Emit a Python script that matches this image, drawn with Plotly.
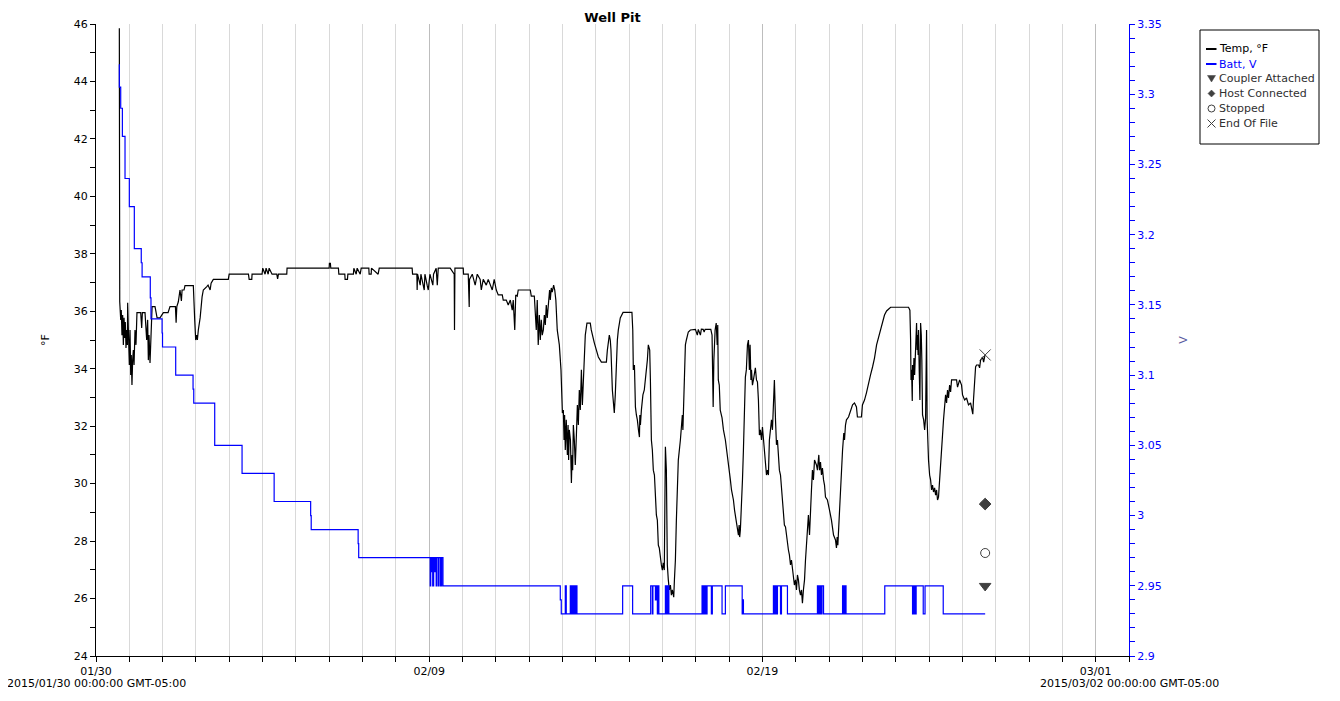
import pandas as pd
import plotly.graph_objects as go

START = pd.Timestamp("2015-01-30 00:00:00")

# Temperature (°F) readings: hours since 2015-01-30 00:00 and values
temp_hours = [
    16.8, 17.1, 17.8, 18.2, 18.7, 19.2, 19.7, 20.2, 20.7, 21.1, 21.6, 22.1, 22.6, 22.8, 23.5, 24.0,
    24.5, 25.0, 25.4, 25.9, 26.4, 26.9, 27.4, 28.1, 28.8, 29.5, 32.2, 32.9, 33.4, 35.3, 36.5, 37.2,
    37.7, 38.2, 38.9, 39.6, 40.4, 42.5, 44.0, 46.1, 48.5, 51.9, 53.3, 57.2, 57.7, 58.2, 59.3, 60.5,
    61.5, 62.0, 63.4, 64.1, 70.1, 71.1, 71.8, 72.6, 73.0, 73.7, 75.0, 76.4, 77.3, 79.8, 80.7, 82.2,
    82.9, 84.5, 95.3, 95.9, 109.8, 110.3, 112.2, 112.4, 119.6, 120.1, 121.8, 122.5, 124.0, 124.7,
    126.8, 130.2, 130.8, 131.4, 137.4, 137.6, 167.9, 168.1, 168.8, 169.1, 174.6, 174.9, 179.2, 179.4,
    181.1, 181.4, 185.4, 185.7, 187.4, 188.1, 190.3, 191.0, 196.5, 196.7, 198.2, 198.4, 203.2, 204.0,
    227.7, 228.0, 231.1, 231.3, 231.6, 233.5, 234.0, 236.4, 236.9, 238.5, 239.3, 240.5, 242.6, 243.1,
    245.0, 245.8, 246.5, 255.1, 258.0, 258.2, 258.5, 264.5, 264.7, 268.1, 268.8, 269.0, 271.0, 273.1,
    274.6, 276.7, 277.5, 278.9, 281.1, 282.5, 284.0, 285.4, 286.8, 287.6, 288.3, 289.7, 292.6, 293.3,
    295.5, 296.9, 298.4, 299.8, 300.5, 301.6, 302.3, 303.4, 304.1, 312.8, 313.5, 315.7, 316.4, 317.1,
    317.8, 318.5, 319.3, 320.0, 320.7, 321.4, 322.2, 322.9, 323.6, 324.3, 325.0, 325.8, 326.7, 327.2,
    327.9, 328.6, 329.6, 330.4, 331.2, 332.2, 333.7, 334.9, 335.6, 335.9, 336.6, 337.1, 337.5, 338.0,
    338.7, 339.5, 340.0, 340.4, 340.9, 341.7, 342.4, 342.9, 343.3, 343.8, 344.5, 345.2, 346.0, 346.7,
    347.4, 348.1, 348.8, 349.6, 350.3, 351.0, 351.7, 352.4, 353.6, 356.0, 356.7, 357.5, 358.9, 360.4,
    361.8, 364.0, 367.6, 368.3, 369.0, 369.7, 370.4, 370.9, 371.9, 372.6, 373.3, 374.0, 374.8, 375.5,
    376.2, 376.9, 377.6, 379.6, 386.0, 386.6, 387.0, 387.8, 388.5, 389.2, 389.9, 390.7, 391.4, 391.7,
    392.1, 392.8, 393.9, 394.9, 395.7, 396.4, 397.1, 397.8, 398.8, 399.3, 400.0, 400.7, 401.4, 402.2,
    402.9, 403.6, 404.3, 405.0, 405.7, 406.5, 407.2, 407.9, 408.6, 409.3, 410.1, 410.8, 411.1, 411.5,
    412.2, 412.9, 413.7, 414.4, 415.1, 416.1, 416.6, 417.3, 418.0, 418.7, 419.4, 420.9, 421.6, 422.3,
    422.7, 423.0, 423.7, 424.5, 425.2, 426.6, 428.1, 431.7, 433.1, 433.8, 435.3, 436.0, 437.3, 438.0,
    438.7, 440.9, 442.8, 443.7, 444.0, 444.5, 445.0, 445.9, 446.7, 447.4, 447.8, 448.2, 448.9, 449.6,
    450.9, 451.9, 453.3, 454.8, 455.7, 456.9, 457.7, 459.1, 459.9, 460.6, 461.3, 462.0, 462.7, 463.2,
    463.6, 464.1, 464.8, 465.6, 466.3, 467.0, 467.7, 468.4, 469.2, 469.9, 470.1, 470.4, 470.6, 471.1,
    471.7, 472.1, 472.8, 473.5, 474.2, 474.9, 475.7, 476.4, 477.1, 477.6, 477.8, 478.5, 479.3, 480.0,
    480.7, 481.2, 481.4, 482.2, 482.9, 483.6, 484.3, 485.0, 485.8, 486.5, 487.2, 487.9, 488.6, 489.4,
    490.1, 490.8, 491.5, 492.2, 493.0, 493.7, 494.4, 495.1, 495.8, 496.6, 497.3, 498.0, 498.7, 499.4,
    500.2, 500.9, 501.6, 502.3, 503.0, 503.8, 504.5, 505.2, 505.9, 506.6, 507.4, 508.1, 508.8, 509.5,
    510.3, 511.0, 511.7, 512.4, 513.1, 513.9, 514.6, 515.3, 516.0, 516.7, 517.5, 518.9, 519.6, 520.6,
    521.1, 521.8, 522.5, 523.2, 524.0, 524.7, 525.4, 526.8, 528.3, 529.7, 531.2, 532.6, 533.3, 533.8,
    534.3, 534.8, 535.5, 536.2, 536.9, 537.7, 538.6, 539.1, 539.8, 540.5, 542.0, 543.4, 544.9, 546.3,
    547.7, 548.4, 551.3, 552.0, 553.5, 554.9, 556.4, 557.8, 559.3, 560.7, 562.2, 563.6, 565.0, 566.5,
    567.9, 569.4, 572.3, 585.2, 586.2, 586.7, 587.0, 587.4, 587.9, 588.1, 588.6, 589.1, 589.6, 590.3,
    591.0, 591.4, 591.7, 592.1, 592.4, 592.9, 593.4, 593.9, 594.4, 594.8, 595.3, 596.1, 596.8, 597.5,
    598.2, 598.6, 598.9, 599.6, 600.4, 601.1, 601.8, 602.5, 603.2, 604.0, 604.7, 605.4, 606.1, 606.8,
    607.6, 608.3, 609.0, 609.7, 610.4, 611.2, 611.9, 612.6, 613.3, 614.0, 614.8, 615.5, 616.2, 619.8,
    620.5, 622.0, 623.4, 624.1, 625.6, 627.0, 628.4, 629.9, 630.6, 631.5, 632.0, 632.8, 633.5, 634.2,
    635.7, 636.4, 637.1, 638.5, 639.3, 640.0, 640.4,
]
temp_values = [
    45.85, 36.33, 35.70, 36.04, 35.17, 35.87, 34.83, 35.77, 35.07, 35.63, 34.72, 35.35, 34.83, 36.30, 35.00, 34.13,
    35.35, 33.78, 34.48, 33.43, 34.30, 34.65, 34.13, 35.35, 34.83, 35.95, 35.95, 35.42, 35.95, 35.95, 35.00, 35.70,
    34.30, 35.17, 34.20, 35.35, 36.16, 36.16, 35.77, 35.77, 35.95, 35.95, 36.16, 36.16, 35.60, 36.16, 36.33, 36.74,
    36.36, 36.74, 36.74, 36.89, 36.89, 35.70, 35.00, 35.17, 35.00, 35.35, 35.77, 36.50, 36.74, 36.86, 36.91, 36.74,
    36.98, 37.11, 37.11, 37.29, 37.29, 37.11, 37.11, 37.29, 37.29, 37.50, 37.29, 37.50, 37.29, 37.50,
    37.29, 37.29, 37.13, 37.29, 37.29, 37.50, 37.50, 37.67, 37.67, 37.50, 37.50, 37.29, 37.29, 37.11,
    37.11, 37.29, 37.29, 37.50, 37.29, 37.50, 37.29, 37.50, 37.50, 37.29, 37.29, 37.50, 37.29, 37.50,
    37.50, 37.29, 37.29, 36.74, 37.29, 36.91, 37.29, 36.74, 37.29, 36.91, 36.74, 37.29, 36.91, 37.29,
    37.50, 36.91, 37.50, 37.50, 37.29, 35.35, 37.50, 37.50, 37.29, 37.29, 36.15, 37.11, 37.29, 36.91,
    37.29, 37.11, 36.74, 37.11, 36.91, 37.11, 36.91, 36.74, 37.11, 36.91, 36.74, 36.57, 36.57, 36.39,
    36.39, 36.22, 36.39, 36.04, 36.39, 35.35, 36.57, 36.53, 36.74, 36.74, 36.53, 36.53, 36.04, 35.35,
    36.39, 34.83, 35.87, 35.00, 35.70, 35.17, 35.35, 35.87, 35.52, 36.22, 35.77, 36.39, 36.74, 36.39,
    36.81, 36.67, 36.91, 36.74, 36.39, 35.35, 34.83, 33.96, 32.91, 32.46, 32.56, 31.52, 32.39, 31.17,
    32.22, 31.00, 32.04, 30.82, 31.87, 31.52, 30.02, 31.00, 30.47, 32.04, 31.52, 30.65, 31.69, 32.74,
    32.04, 33.26, 32.56, 33.96, 32.74, 33.61, 34.65, 35.17, 35.59, 35.59, 35.35, 35.17, 34.90, 34.65,
    34.41, 34.23, 34.23, 34.65, 35.00, 35.17, 35.00, 34.65, 33.26, 32.74, 32.46, 33.09, 34.30, 35.00,
    35.35, 35.52, 35.77, 35.96, 35.96, 35.35, 33.96, 34.13, 32.67, 32.39, 32.22, 31.87, 31.62, 32.39,
    32.04, 32.56, 33.09, 33.26, 33.61, 33.78, 34.30, 34.83, 34.65, 33.61, 31.52, 31.17, 30.47, 30.30,
    29.43, 28.91, 28.73, 27.86, 27.76, 27.34, 27.17, 26.99, 27.24, 26.99, 31.28, 30.47, 28.04, 27.17,
    26.65, 26.30, 26.47, 26.12, 26.30, 26.05, 26.65, 27.34, 28.73, 30.13, 30.82, 31.52, 32.22, 32.39,
    31.87, 32.56, 33.61, 34.83, 35.00, 35.28, 35.35, 35.37, 35.17, 35.37, 35.17, 35.38, 35.37, 35.28,
    35.37, 35.37, 35.37, 35.17, 32.91, 32.67, 34.30, 35.35, 35.59, 34.83, 35.52, 33.61, 33.43, 32.56,
    32.29, 31.87, 31.52, 31.00, 30.58, 30.13, 29.78, 29.43, 29.08, 28.84, 28.56, 28.49, 28.21, 28.56,
    28.14, 28.39, 29.08, 30.13, 31.17, 32.56, 33.71, 33.96, 34.83, 35.00, 34.30, 35.00, 33.96, 34.83,
    33.61, 33.96, 33.43, 33.61, 33.89, 34.03, 33.61, 33.54, 32.91, 32.22, 31.69, 31.87, 31.52, 31.97,
    31.62, 31.35, 31.17, 30.82, 30.30, 30.47, 30.30, 31.52, 32.04, 32.22, 31.87, 32.91, 33.61, 32.22,
    31.35, 31.52, 30.82, 30.47, 30.30, 29.78, 29.43, 28.91, 28.56, 28.49, 28.21, 27.86, 27.69, 27.52,
    27.17, 27.34, 26.99, 26.65, 26.47, 26.65, 26.30, 26.82, 26.65, 26.30, 26.12, 26.30, 25.84, 26.30,
    26.65, 27.34, 28.04, 28.56, 28.91, 28.21, 29.43, 29.78, 30.47, 30.13, 30.82, 30.65, 30.47, 31.00,
    30.47, 30.75, 30.30, 30.54, 30.13, 29.95, 29.53, 29.43, 29.08, 28.73, 28.21, 28.04, 27.76, 28.14,
    27.86, 28.39, 29.08, 29.78, 30.47, 31.17, 31.76, 31.52, 32.04, 32.22, 32.32, 32.56, 32.74, 32.81,
    32.67, 32.32, 32.32, 32.74, 32.91, 33.16, 33.43, 33.78, 34.06, 34.37, 34.83, 35.10, 35.35, 35.63,
    35.87, 36.01, 36.14, 36.14, 36.04, 35.00, 33.61, 33.96, 32.88, 34.13, 33.61, 34.37, 33.78, 34.83,
    35.59, 34.65, 35.17, 34.48, 35.35, 33.96, 32.91, 35.59, 35.17, 34.30, 32.39, 32.22, 31.87, 32.29,
    35.35, 32.22, 31.35, 30.82, 30.30, 30.13, 29.78, 29.95, 29.71, 29.85, 29.60, 29.78, 29.43, 29.53,
    30.13, 30.82, 31.41, 31.69, 32.22, 32.74, 33.09, 32.81, 33.26, 32.98, 33.43, 33.19, 33.61, 33.61,
    33.36, 33.61, 33.43, 33.09, 32.91, 32.98, 32.74, 32.81, 32.56, 32.42, 32.91, 33.61, 34.06, 34.13,
    34.13, 34.03, 34.30, 34.41, 34.23, 34.41, 34.48,
]

# Battery (V) readings: hours since start and values (step series)
batt_hours = [
    16.4, 16.8, 17.8, 19.0, 20.9, 24.0, 27.6, 32.6, 33.2, 39.1, 39.6, 47.6, 47.9, 57.4, 69.9, 70.4,
    85.5, 105.2, 128.3, 154.6, 155.0, 188.8, 189.2,
    240.7, 241.1, 241.4, 241.8, 242.5, 243.2, 244.0, 244.3, 245.0, 245.4, 246.5, 246.8, 247.9, 248.1,
    248.6, 249.0, 249.9,
    334.4, 335.1, 338.0, 338.7, 341.6, 342.3, 343.1, 343.8, 344.5, 345.2, 345.6, 346.4, 379.3, 386.5,
    399.5, 400.7, 401.1, 402.9, 403.6, 404.3, 405.0, 405.4, 410.1, 410.4, 411.2, 411.5, 412.2, 412.6,
    436.5, 437.1, 437.8, 438.5, 439.3, 439.6, 440.1, 443.2, 443.9, 450.9, 453.3, 465.4, 465.9, 466.3,
    487.9, 488.6, 489.4, 490.1, 490.8, 493.0, 493.7, 498.0, 519.6, 520.4, 520.7, 521.4, 521.8, 522.5,
    522.9, 524.0, 524.7, 537.7, 538.0, 538.7, 539.1, 539.8, 540.2, 568.1, 588.1, 588.4, 589.2, 589.6,
    590.3, 590.7, 595.8, 597.1, 610.2, 640.4,
]
batt_values = [
    3.321, 3.305, 3.29, 3.27, 3.24, 3.22, 3.19, 3.18, 3.17, 3.155, 3.14, 3.13, 3.12, 3.10, 3.09, 3.08,
    3.05, 3.03, 3.01, 3.00, 2.99, 2.98, 2.97,
    2.95, 2.97, 2.96, 2.97, 2.95, 2.97, 2.96, 2.97, 2.95, 2.97, 2.95, 2.97, 2.95, 2.97,
    2.95, 2.97, 2.95,
    2.94, 2.93, 2.95, 2.93, 2.95, 2.93, 2.95, 2.93, 2.95, 2.93, 2.95, 2.93, 2.95, 2.93,
    2.95, 2.93, 2.95, 2.94, 2.95, 2.93, 2.95, 2.93, 2.95, 2.93, 2.95, 2.93, 2.95, 2.93,
    2.95, 2.93, 2.95, 2.93, 2.95, 2.93, 2.95, 2.93, 2.95, 2.93, 2.95, 2.93, 2.94, 2.93,
    2.95, 2.93, 2.95, 2.93, 2.95, 2.93, 2.95, 2.93, 2.95, 2.93, 2.95, 2.93, 2.95, 2.93,
    2.95, 2.93, 2.93, 2.95, 2.93, 2.95, 2.93, 2.95, 2.93, 2.95, 2.93, 2.95, 2.93, 2.95,
    2.93, 2.95, 2.93, 2.95, 2.93, 2.93,
]

# Event markers (hours since start, value on °F axis)
event_names = ["Coupler Attached", "Host Connected", "Stopped", "End Of File"]
event_hours = [640.4, 640.4, 640.4, 640.4]
event_values = [26.44, 29.29, 27.585, 34.48]
event_symbols = ["triangle-down", "diamond", "circle-open", "x-thin-open"]
event_sizes = [10, 9, 9, 11]

legend_labels = ["Temp, °F", "Batt, V"] + event_names
legend_colors = ["black", "#0000ff", "#303030", "#303030", "#303030", "#303030"]

title_text = "Well Pit"
start_label = "2015/01/30 00:00:00 GMT-05:00"
end_label = "2015/03/02 00:00:00 GMT-05:00"


def to_time(hours):
    return [START + pd.Timedelta(hours=h) for h in hours]


FONT = "DejaVu Sans"
GRAY = "#404040"
BLUE = "#0000ff"

# Page is rendered with an 8px body margin; figure is sized to compensate.
W, H = 1324, 685
PL, PT, PW, PH = 88, 16, 1033, 632   # plot area in figure pixels


def px(xp):   # page pixel x -> paper
    return (xp - 8 - PL) / PW


def py(yp):   # page pixel y -> paper
    return (PT + PH - (yp - 8)) / PH


fig = go.Figure()
fig.add_trace(go.Scatter(
    x=to_time(temp_hours), y=temp_values, mode="lines", name="Temp, °F",
    line=dict(color="black", width=1.2), yaxis="y", showlegend=False,
))
fig.add_trace(go.Scatter(
    x=to_time(batt_hours), y=batt_values, mode="lines", name="Batt, V",
    line=dict(color=BLUE, width=1.2, shape="hv"), yaxis="y2", showlegend=False,
))
for nm, h, v, sym, sz in zip(event_names, event_hours, event_values, event_symbols, event_sizes):
    fig.add_trace(go.Scatter(
        x=to_time([h]), y=[v], mode="markers", name=nm, showlegend=False,
        marker=dict(symbol=sym, size=sz, color=GRAY, line=dict(color=GRAY, width=1)),
        yaxis="y",
    ))

fig.update_layout(
    width=W, height=H,
    margin=dict(l=PL, r=W - PL - PW, t=PT, b=H - PT - PH, autoexpand=False),
    paper_bgcolor="white", plot_bgcolor="white",
    font=dict(family=FONT, size=11, color="black"),
    title=dict(text=f"<b>{title_text}</b>", x=(612.5 - 8) / W, xanchor="center",
               y=1 - (17 - 8) / H, yanchor="middle", font=dict(size=13, family=FONT, color="black")),
    showlegend=False,
    xaxis=dict(
        type="date", range=[START, START + pd.Timedelta(days=31)],
        tickmode="linear", tick0=START, dtick=10 * 86400000, tickformat="%m/%d",
        ticks="outside", ticklen=5, tickcolor="black",
        showline=True, linecolor="black", linewidth=1,
        showgrid=True, gridcolor="#bdbdbd", gridwidth=1,
        minor=dict(dtick=86400000, tick0=START, ticks="outside", ticklen=5, tickcolor="black",
                   showgrid=True, gridcolor="#d9d9d9", gridwidth=1),
        zeroline=False,
    ),
    yaxis=dict(
        range=[24, 46], tickmode="linear", tick0=24, dtick=2,
        ticks="outside", ticklen=5, tickcolor="black",
        showline=True, linecolor="black", linewidth=1, showgrid=False, zeroline=False,
        minor=dict(dtick=1, ticks="outside", ticklen=5, tickcolor="black"),
        title=dict(text="°F", standoff=21, font=dict(size=11)),
    ),
    yaxis2=dict(
        range=[2.9, 3.35], tickmode="linear", tick0=2.9, dtick=0.05,
        overlaying="y", side="right", anchor="x",
        ticks="outside", ticklen=5, tickcolor=BLUE,
        showline=True, linecolor=BLUE, linewidth=1, showgrid=False, zeroline=False,
        tickfont=dict(color=BLUE, size=11),
        minor=dict(dtick=0.01, ticks="outside", ticklen=5, tickcolor=BLUE),
        title=dict(text="V", standoff=18, font=dict(size=11, color="#5a5aa0")),
    ),
)

# bottom date annotations
fig.add_annotation(x=0, y=0, xref="paper", yref="paper", text=start_label, showarrow=False,
                   xanchor="center", yanchor="middle", yshift=-27, font=dict(size=11, family=FONT))
fig.add_annotation(x=1, y=0, xref="paper", yref="paper", text=end_label, showarrow=False,
                   xanchor="center", yanchor="middle", yshift=-27, font=dict(size=11, family=FONT))

# ---- legend box drawn with shapes and text ----
shapes = []
shapes.append(dict(type="rect", xref="paper", yref="paper", x0=px(1200), x1=px(1319),
                   y0=py(144), y1=py(30), line=dict(color="black", width=1), fillcolor="white",
                   layer="above"))
rows = [49, 64, 78.5, 93.5, 108.5, 123.5]
sx = 1211.5
# line samples
shapes.append(dict(type="line", xref="paper", yref="paper", x0=px(1206), x1=px(1216.5),
                   y0=py(rows[0]), y1=py(rows[0]), line=dict(color="black", width=2)))
shapes.append(dict(type="line", xref="paper", yref="paper", x0=px(1206), x1=px(1216.5),
                   y0=py(rows[1]), y1=py(rows[1]), line=dict(color=BLUE, width=2)))
# triangle down
r = rows[2]
shapes.append(dict(type="path", xref="paper", yref="paper",
                   path=f"M {px(sx-4)},{py(r-3)} L {px(sx+4)},{py(r-3)} L {px(sx)},{py(r+3.5)} Z",
                   fillcolor=GRAY, line=dict(color=GRAY, width=0.5)))
# diamond
r = rows[3]
shapes.append(dict(type="path", xref="paper", yref="paper",
                   path=f"M {px(sx)},{py(r-3.5)} L {px(sx+3.5)},{py(r)} L {px(sx)},{py(r+3.5)} L {px(sx-3.5)},{py(r)} Z",
                   fillcolor=GRAY, line=dict(color=GRAY, width=0.5)))
# open circle
r = rows[4]
shapes.append(dict(type="circle", xref="paper", yref="paper", x0=px(sx - 3.5), x1=px(sx + 3.5),
                   y0=py(r + 3.5), y1=py(r - 3.5), line=dict(color=GRAY, width=1)))
# x
r = rows[5]
shapes.append(dict(type="line", xref="paper", yref="paper", x0=px(sx - 4), x1=px(sx + 4),
                   y0=py(r - 4), y1=py(r + 4), line=dict(color=GRAY, width=1)))
shapes.append(dict(type="line", xref="paper", yref="paper", x0=px(sx - 4), x1=px(sx + 4),
                   y0=py(r + 4), y1=py(r - 4), line=dict(color=GRAY, width=1)))
fig.update_layout(shapes=shapes)

for lbl, col, r in zip(legend_labels, legend_colors, rows):
    fig.add_annotation(x=px(1216.5), y=py(r), xref="paper", yref="paper", text=lbl,
                       showarrow=False, xanchor="left", yanchor="middle",
                       font=dict(size=11, family=FONT, color=col))

fig.write_html("out.html")
